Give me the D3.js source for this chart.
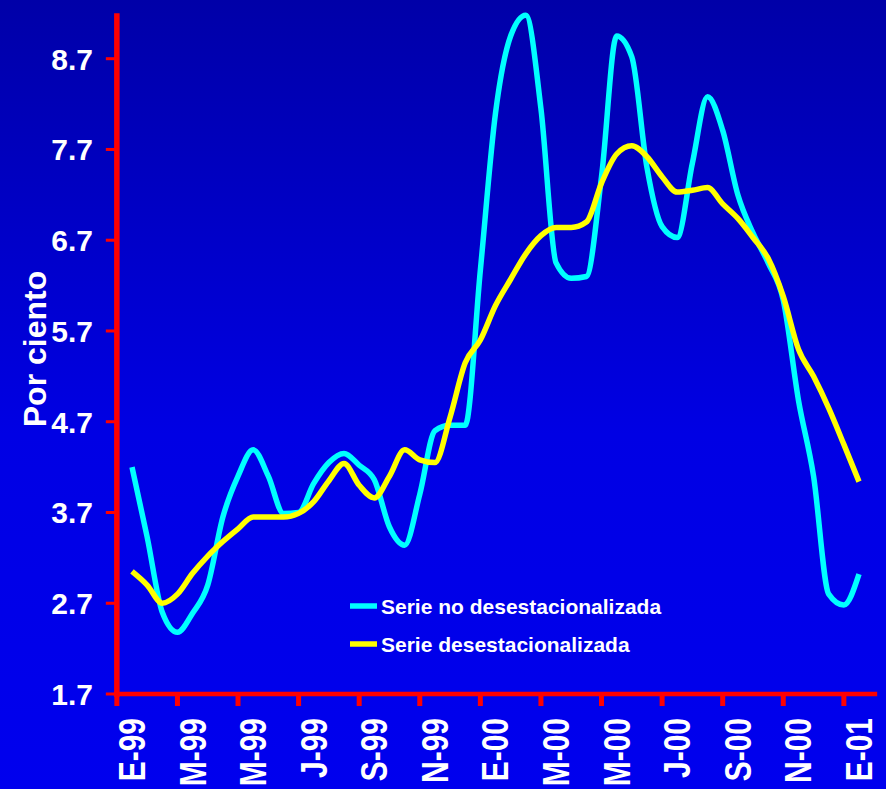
<!DOCTYPE html>
<html><head><meta charset="utf-8">
<script src="https://cdn.jsdelivr.net/npm/d3@7"></script>
<style>html,body{margin:0;padding:0;background:#0000e6;overflow:hidden}svg{display:block}</style>
</head><body>
<svg id="chart" width="886" height="789"></svg>
<script>
// Month tick labels (one every two months, E-99 .. E-01)
const monthLabels = ["E-99","M-99","M-99","J-99","S-99","N-99","E-00","M-00","M-00","J-00","S-00","N-00","E-01"];
const yTickValues = [1.7, 2.7, 3.7, 4.7, 5.7, 6.7, 7.7, 8.7];
// half-monthly readings, Jan-99 .. Jan-01 (49 points)
const serieNoDes = [4.20,3.43,2.60,2.38,2.59,2.90,3.65,4.10,4.39,4.10,3.69,3.70,
  4.02,4.25,4.35,4.22,4.06,3.54,3.34,3.90,4.60,4.66,4.66,6.37,
  8.10,8.95,9.18,8.15,6.45,6.28,6.30,7.40,8.95,8.72,7.50,6.85,
  6.73,7.55,8.28,7.91,7.20,6.78,6.45,6.04,4.94,4.10,2.80,2.68,3.02];
const serieDes = [3.05,2.90,2.70,2.80,3.03,3.22,3.38,3.52,3.65,3.65,3.65,3.69,
  3.82,4.05,4.24,4.00,3.86,4.10,4.39,4.28,4.25,4.75,5.35,5.60,
  5.98,6.27,6.55,6.75,6.84,6.84,6.90,7.33,7.65,7.74,7.62,7.40,
  7.23,7.25,7.28,7.10,6.94,6.73,6.50,6.08,5.50,5.20,4.85,4.45,4.04];
const seriesNames = ["Serie no desestacionalizada","Serie desestacionalizada"];
const seriesColors = ["#00ffff","#ffff00"];

const svg = d3.select("#chart");
const W = 886, H = 789;
const defs = svg.append("defs");
const grad = defs.append("linearGradient").attr("id","bg").attr("x1",0).attr("y1",0).attr("x2",0).attr("y2",1);
grad.append("stop").attr("offset","0").attr("stop-color","#0000a8");
grad.append("stop").attr("offset","0.55").attr("stop-color","#0000e4");
grad.append("stop").attr("offset","1").attr("stop-color","#0000ee");
svg.append("rect").attr("width",W).attr("height",H).attr("fill","url(#bg)");

const x = d3.scaleLinear().domain([0, 48]).range([132, 859]);
const y = d3.scaleLinear().domain([1.7, 8.7]).range([694, 58.7]);
const xLeft = x(-1), xRight = x(49.2);
const yTop = y(9.2);

const font = "'Liberation Sans', Arial, sans-serif";

// y axis
const yAxisG = svg.append("g");
yAxisG.append("line").attr("x1",xLeft).attr("x2",xLeft).attr("y1",yTop).attr("y2",y(1.7)+3)
  .attr("stroke","#ff0000").attr("stroke-width",5.5);
yTickValues.forEach(v=>{
  yAxisG.append("line").attr("x1",xLeft-11).attr("x2",xLeft).attr("y1",y(v)).attr("y2",y(v))
    .attr("stroke","#ff0000").attr("stroke-width",3);
  yAxisG.append("text").attr("x",93).attr("y",y(v)).attr("dy","0.36em")
    .attr("text-anchor","end").attr("fill","#fff").attr("font-family",font)
    .attr("font-weight","bold").attr("font-size",30).text(v.toFixed(1));
});

// x axis
const xAxisG = svg.append("g");
xAxisG.append("line").attr("x1",xLeft-3).attr("x2",xRight).attr("y1",y(1.7)).attr("y2",y(1.7))
  .attr("stroke","#ff0000").attr("stroke-width",4.5);
monthLabels.forEach((lab,k)=>{
  const tx = x(4*k-1);
  xAxisG.append("line").attr("x1",tx).attr("x2",tx).attr("y1",y(1.7)).attr("y2",y(1.7)+12)
    .attr("stroke","#ff0000").attr("stroke-width",5);
  const cx = x(4*k);
  xAxisG.append("text").attr("transform",`translate(${cx},718) rotate(-90) scale(1,1.2)`)
    .attr("dy","0.36em").attr("text-anchor","end").attr("fill","#fff")
    .attr("font-family",font).attr("font-weight","bold").attr("font-size",30).text(lab);
});

// y title
svg.append("text").attr("transform","translate(34,349) rotate(-90)").attr("dy","0.36em")
  .attr("text-anchor","middle").attr("fill","#fff").attr("font-family",font)
  .attr("font-weight","bold").attr("font-size",32).text("Por ciento");

// lines
const line = d3.line().x((d,i)=>x(i)).y(d=>y(d)).curve(d3.curveMonotoneX);
[serieNoDes, serieDes].forEach((s,i)=>{
  svg.append("path").datum(s).attr("d",line).attr("fill","none")
    .attr("stroke",seriesColors[i]).attr("stroke-width",5.5)
    .attr("stroke-linejoin","round").attr("stroke-linecap","butt");
});

// legend
const legY = [606, 644];
seriesNames.forEach((n,i)=>{
  svg.append("line").attr("x1",350).attr("x2",377).attr("y1",legY[i]).attr("y2",legY[i])
    .attr("stroke",seriesColors[i]).attr("stroke-width",5.5);
  svg.append("text").attr("x",381).attr("y",legY[i]).attr("dy","0.36em").attr("fill","#fff")
    .attr("font-family",font).attr("font-weight","bold").attr("font-size",21).text(n);
});
</script>
</body></html>
